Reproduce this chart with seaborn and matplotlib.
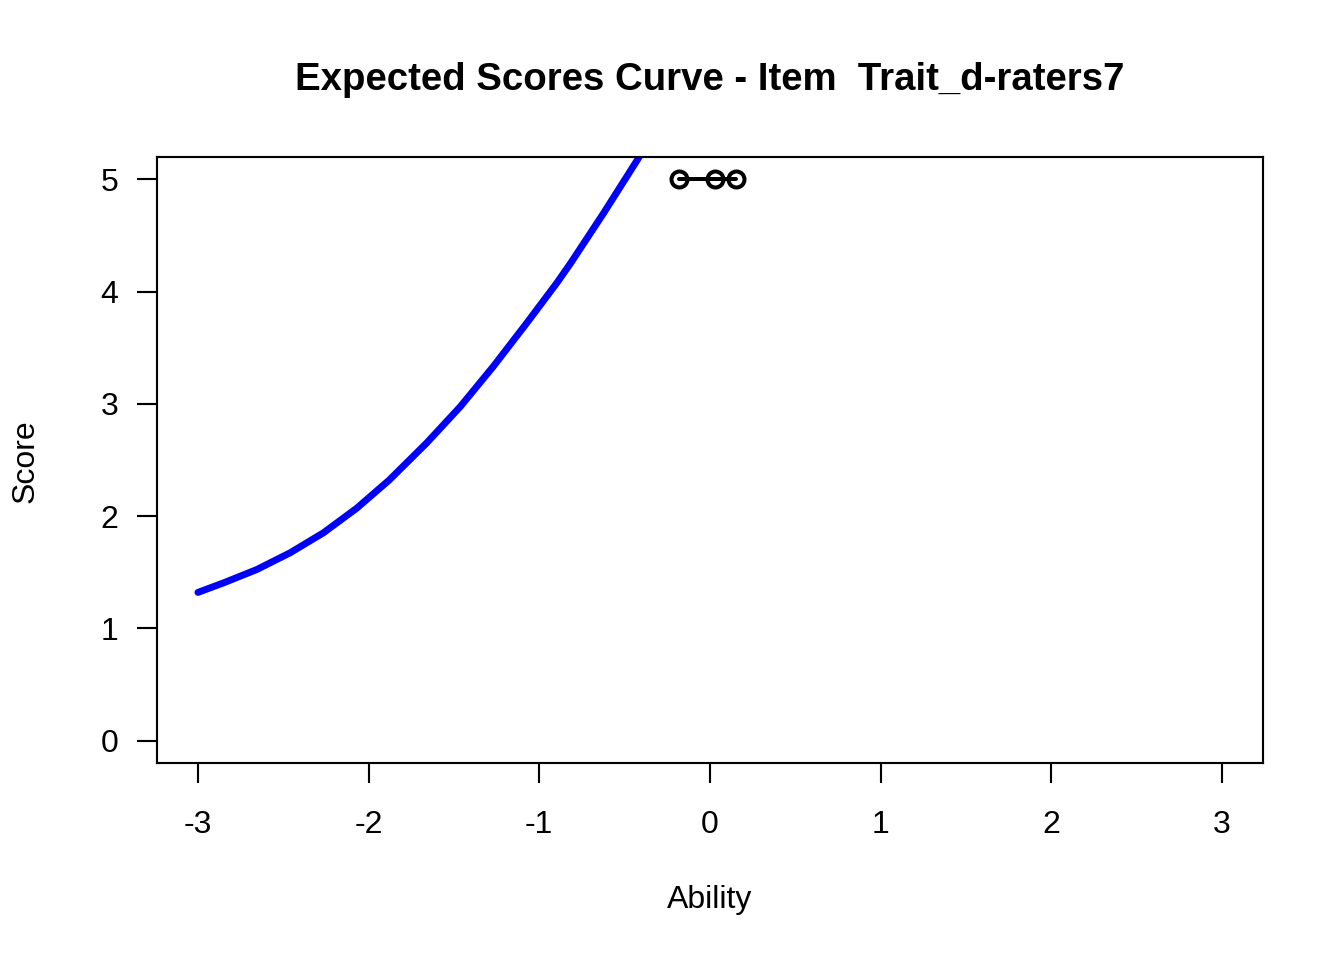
import matplotlib
matplotlib.use("Agg")
import matplotlib.pyplot as plt
import seaborn as sns
import pandas as pd

# expected score curve (runs past the top of the panel and is clipped)
ability = [-3.0, -2.85, -2.655, -2.46, -2.265, -2.07, -1.88, -1.659, -1.463,
           -1.268, -1.072, -0.896, -0.818, -0.623, -0.427, -0.3]
score = [1.32, 1.405, 1.524, 1.673, 1.851, 2.07, 2.32, 2.653, 2.975,
         3.336, 3.723, 4.08, 4.25, 4.70, 5.17, 5.49]

# observed points
obs_ability = [-0.18, 0.03, 0.155]
obs_score = [5, 5, 5]

x_ticks = [-3, -2, -1, 0, 1, 2, 3]
y_ticks = [0, 1, 2, 3, 4, 5]

sns.set_style("ticks")
plt.rcParams['font.family'] = ['Liberation Sans', 'DejaVu Sans']
plt.rcParams['text.color'] = 'black'

curve = pd.DataFrame({'Ability': ability, 'Score': score})
obs = pd.DataFrame({'Ability': obs_ability, 'Score': obs_score})

fig = plt.figure(figsize=(7, 5), dpi=192)
ax = fig.add_axes([0.1168, 0.2052, 0.8229, 0.6313])

sns.lineplot(data=curve, x='Ability', y='Score', color='blue', linewidth=2.6,
             solid_capstyle='round', solid_joinstyle='round', ax=ax)
sns.lineplot(data=obs, x='Ability', y='Score', color='black', linewidth=1.5,
             marker='o', markersize=6, markerfacecolor='none',
             markeredgecolor='black', markeredgewidth=1.5, ax=ax)

ax.set_xlim(-3.24, 3.24)
ax.set_ylim(-0.2, 5.2)
ax.set_xticks(x_ticks)
ax.set_yticks(y_ticks)
ax.set_xticklabels([str(t) for t in x_ticks])
ax.set_yticklabels([str(t) for t in y_ticks])
ax.tick_params(axis='both', direction='out', length=7.5, width=0.8, colors='black',
               labelcolor='black', labelsize=12)
ax.tick_params(axis='x', pad=10)
ax.tick_params(axis='y', pad=7)
for s in ax.spines.values():
    s.set_visible(True)
    s.set_linewidth(0.8)
    s.set_color('black')
ax.set_xlabel('')
ax.set_ylabel('')

fig.text(0.528, 0.0625, 'Ability', ha='center', va='center', fontsize=12, color='black')
fig.text(0.019, 0.52, 'Score', ha='center', va='center', rotation=90, fontsize=12,
         color='black')
fig.text(0.528, 0.917, 'Expected Scores Curve - Item  Trait_d-raters7', ha='center',
         va='center', fontsize=14.4, fontweight='bold', color='black')

fig.savefig('out.png', dpi=192, facecolor='white')
